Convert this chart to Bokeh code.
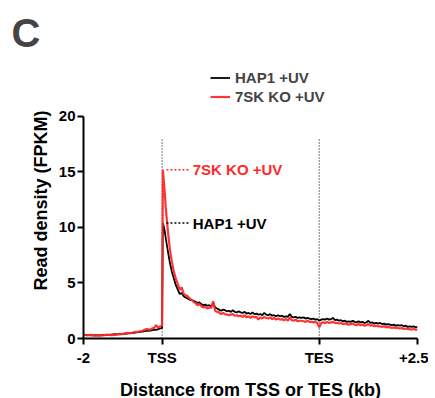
from bokeh.plotting import figure
from bokeh.models import Legend, LegendItem, Label, FixedTicker, Range1d
from bokeh.core.properties import value
from bokeh.embed import file_html
from bokeh.resources import INLINE

# ---------------- data ----------------
# meta-gene coordinate: -2..0 upstream (kb), 0..4 scaled gene body, 4..6.5 downstream (kb)
tss = 0.0
tes = 4.0
tick_pos = [-2, 0, 4, 6.5]
tick_labels = ["-2", "TSS", "TES", "+2.5"]
y_ticks = [0, 5, 10, 15, 20]

x = [-2.0, -1.9, -1.8, -1.7, -1.6, -1.5, -1.4, -1.3, -1.2, -1.1, -1.0,
     -0.9, -0.8, -0.7, -0.6, -0.5, -0.4, -0.3, -0.25, -0.2, -0.15, -0.1, -0.05, 0.0,
     0.02, 0.06, 0.1, 0.15, 0.2, 0.25, 0.3, 0.35, 0.4, 0.45, 0.5, 0.55, 0.6,
     0.65, 0.70, 0.75, 0.80, 0.85, 0.90, 0.95, 1.00, 1.05, 1.10, 1.15, 1.20,
     1.25, 1.30, 1.35, 1.40, 1.45, 1.50, 1.55, 1.60, 1.65, 1.70, 1.75, 1.80,
     1.85, 1.90, 1.95, 2.00, 2.05, 2.10, 2.15, 2.20, 2.25, 2.30, 2.35, 2.40,
     2.45, 2.50, 2.55, 2.60, 2.65, 2.70, 2.75, 2.80, 2.85, 2.90, 2.95, 3.00,
     3.05, 3.10, 3.15, 3.20, 3.25, 3.30, 3.35, 3.40, 3.45, 3.50, 3.55, 3.60,
     3.65, 3.70, 3.75, 3.80, 3.85, 3.90, 3.95, 4.00, 4.05, 4.10, 4.15, 4.20,
     4.25, 4.30, 4.35, 4.40, 4.45, 4.50, 4.55, 4.60, 4.65, 4.70, 4.75, 4.80,
     4.85, 4.90, 4.95, 5.00, 5.05, 5.10, 5.15, 5.20, 5.25, 5.30, 5.35, 5.40,
     5.45, 5.50, 5.55, 5.60, 5.65, 5.70, 5.75, 5.80, 5.85, 5.90, 5.95, 6.00,
     6.05, 6.10, 6.15, 6.20, 6.25, 6.30, 6.35, 6.40, 6.45, 6.50]

hap1 = [0.30, 0.32, 0.28, 0.30, 0.27, 0.33, 0.30, 0.35, 0.40, 0.38, 0.42,
        0.45, 0.50, 0.52, 0.58, 0.62, 0.68, 0.72, 0.76, 0.80, 0.78, 0.85, 0.90, 0.95,
        10.4, 9.8, 8.9, 7.8, 6.8, 6.0, 5.4, 4.8, 4.4, 4.0, 4.1, 3.8, 3.7,
        3.6, 3.5, 3.45, 3.4, 3.3, 3.2, 3.25, 3.1, 3.0, 3.05, 2.95, 3.0,
        2.9, 3.2, 2.8, 2.7, 2.6, 2.5, 2.6, 2.55, 2.45, 2.5, 2.4, 2.55,
        2.4, 2.35, 2.45, 2.35, 2.3, 2.4, 2.25, 2.3, 2.2, 2.35, 2.2, 2.25,
        2.15, 2.2, 2.1, 2.3, 2.15, 2.1, 2.2, 2.05, 2.1, 2.0, 2.1, 2.0,
        2.05, 1.95, 2.0, 1.95, 2.2, 1.95, 1.9, 1.95, 1.85, 1.9, 1.85, 1.9,
        1.8, 1.85, 1.8, 1.75, 1.8, 1.7, 1.75, 1.6, 1.7, 1.75, 1.7, 1.8,
        1.7, 1.75, 1.85, 1.65, 1.7, 1.6, 1.65, 1.55, 1.6, 1.5, 1.55, 1.5,
        1.6, 1.5, 1.45, 1.55, 1.45, 1.5, 1.4, 1.45, 1.6, 1.4, 1.45, 1.35,
        1.4, 1.35, 1.4, 1.3, 1.35, 1.25, 1.3, 1.25, 1.2, 1.25, 1.15, 1.2,
        1.15, 1.2, 1.1, 1.15, 1.05, 1.1, 1.05, 1.1, 1.0, 1.05]

ko = [0.35, 0.28, 0.33, 0.25, 0.30, 0.28, 0.35, 0.30, 0.33, 0.42, 0.40,
      0.50, 0.47, 0.58, 0.62, 0.70, 0.85, 0.80, 0.92, 0.95, 1.20, 0.98, 1.10, 1.15,
      15.2, 13.5, 11.5, 9.6, 8.0, 6.9, 6.0, 5.4, 4.9, 4.4, 4.6, 4.0, 3.9,
      3.8, 3.6, 3.5, 3.3, 3.2, 3.0, 3.1, 2.9, 2.8, 2.85, 2.7, 2.8,
      2.75, 3.35, 2.5, 2.4, 2.35, 2.2, 2.3, 2.2, 2.15, 2.1, 2.15, 2.2,
      2.05, 2.1, 2.0, 2.05, 1.95, 2.1, 1.9, 2.0, 1.85, 2.0, 1.9, 1.95,
      1.7, 1.9, 1.8, 1.95, 1.85, 1.8, 1.9, 1.75, 1.85, 1.7, 1.8, 1.7,
      1.75, 1.65, 1.75, 1.6, 1.9, 1.65, 1.6, 1.7, 1.55, 1.6, 1.6, 1.55,
      1.5, 1.6, 1.5, 1.5, 1.45, 1.5, 1.4, 1.0, 1.4, 1.45, 1.4, 1.5,
      1.4, 1.45, 1.5, 1.4, 1.4, 1.35, 1.4, 1.3, 1.35, 1.3, 1.25, 1.3,
      1.35, 1.25, 1.2, 1.3, 1.2, 1.25, 1.15, 1.2, 1.3, 1.15, 1.2, 1.1,
      1.15, 1.1, 1.1, 1.05, 1.1, 1.0, 1.05, 1.0, 0.95, 1.0, 0.95, 0.95,
      0.9, 0.95, 0.85, 0.9, 0.85, 0.85, 0.8, 0.85, 0.8, 0.8]

series_names = ["HAP1 +UV", "7SK KO +UV"]
series_colors = ["#000000", "#FF2A2A"]
peak_values = [max(hap1), max(ko)]
guide_top = 18

FONT = "Liberation Sans"

p = figure(frame_width=334, frame_height=276,
           min_border_left=83, min_border_top=62, min_border_right=11, min_border_bottom=55,
           x_range=Range1d(-2, 6.5), y_range=Range1d(0, 24.86),
           output_backend="svg", toolbar_location=None)
p.outline_line_color = None
p.grid.visible = False
p.background_fill_color = "white"
p.border_fill_color = "white"

# vertical guides at TSS / TES
p.segment(x0=[tss, tes], y0=[0, 0], x1=[tss, tes], y1=[guide_top, guide_top],
          line_color="#222222", line_width=1.2, line_dash=value("1 2"))

r_hap = p.line(x, hap1, line_color=series_colors[0], line_width=1.8)
r_ko = p.line(x, ko, line_color=series_colors[1], line_width=2.2, line_alpha=0.95)

# peak annotations
peak_x0 = 0.11
peak_x1 = 0.72
for val, name, col in zip(peak_values, series_names, series_colors):
    p.segment(x0=[peak_x0], y0=[val], x1=[peak_x1], y1=[val],
              line_color=col, line_width=1.5, line_dash=value("2 2"))
    p.add_layout(Label(x=peak_x1 + 0.06, y=val, text=name, text_color=col,
                       text_font=FONT, text_font_style="bold", text_font_size="15px",
                       text_baseline="middle"))

# axes
for ax in (p.xaxis[0], p.yaxis[0]):
    ax.axis_line_width = 2
    ax.axis_line_color = "black"
    ax.major_tick_line_width = 2
    ax.major_tick_out = 6
    ax.major_tick_in = 0
    ax.minor_tick_line_color = None
    ax.major_label_text_font = FONT
    ax.major_label_text_font_style = "bold"
    ax.major_label_text_font_size = "15px"
    ax.major_label_text_color = "black"
    ax.axis_label_text_font = FONT
    ax.axis_label_text_font_style = "bold"
    ax.axis_label_text_font_size = "18px"
    ax.axis_label_text_color = "black"

p.xaxis.ticker = FixedTicker(ticks=tick_pos)
p.xaxis.major_label_overrides = {t: l for t, l in zip(tick_pos, tick_labels)}
p.xaxis.axis_label = "Distance from TSS or TES (kb)"
p.xaxis.major_label_standoff = 4
p.xaxis.axis_label_standoff = 11

p.yaxis.ticker = FixedTicker(ticks=y_ticks)
p.yaxis.bounds = (0, 20)
p.yaxis.axis_label = "Read density (FPKM)"
p.yaxis.axis_label_text_align = "center"
p.yaxis.major_label_standoff = 2
p.yaxis.axis_label_standoff = 5

# legend (inside the extended frame, above the data area)
legend = Legend(items=[LegendItem(label=value(series_names[0]), renderers=[r_hap]),
                       LegendItem(label=value(series_names[1]), renderers=[r_ko])],
                location=(127, 232), orientation="vertical",
                label_text_font=FONT, label_text_font_style="bold",
                label_text_font_size="15px", label_height=19, glyph_height=19,
                glyph_width=20, label_standoff=5, spacing=0, padding=0, margin=0,
                border_line_color=None, background_fill_alpha=0)
p.add_layout(legend)

# panel letter as title
p.title.text = "C"
p.title.text_font = FONT
p.title.text_font_style = "bold"
p.title.text_font_size = "40px"
p.title.align = "left"
p.title.offset = -72
p.title.standoff = 16

html = file_html(p, INLINE)
open("out.html", "w").write(html)
